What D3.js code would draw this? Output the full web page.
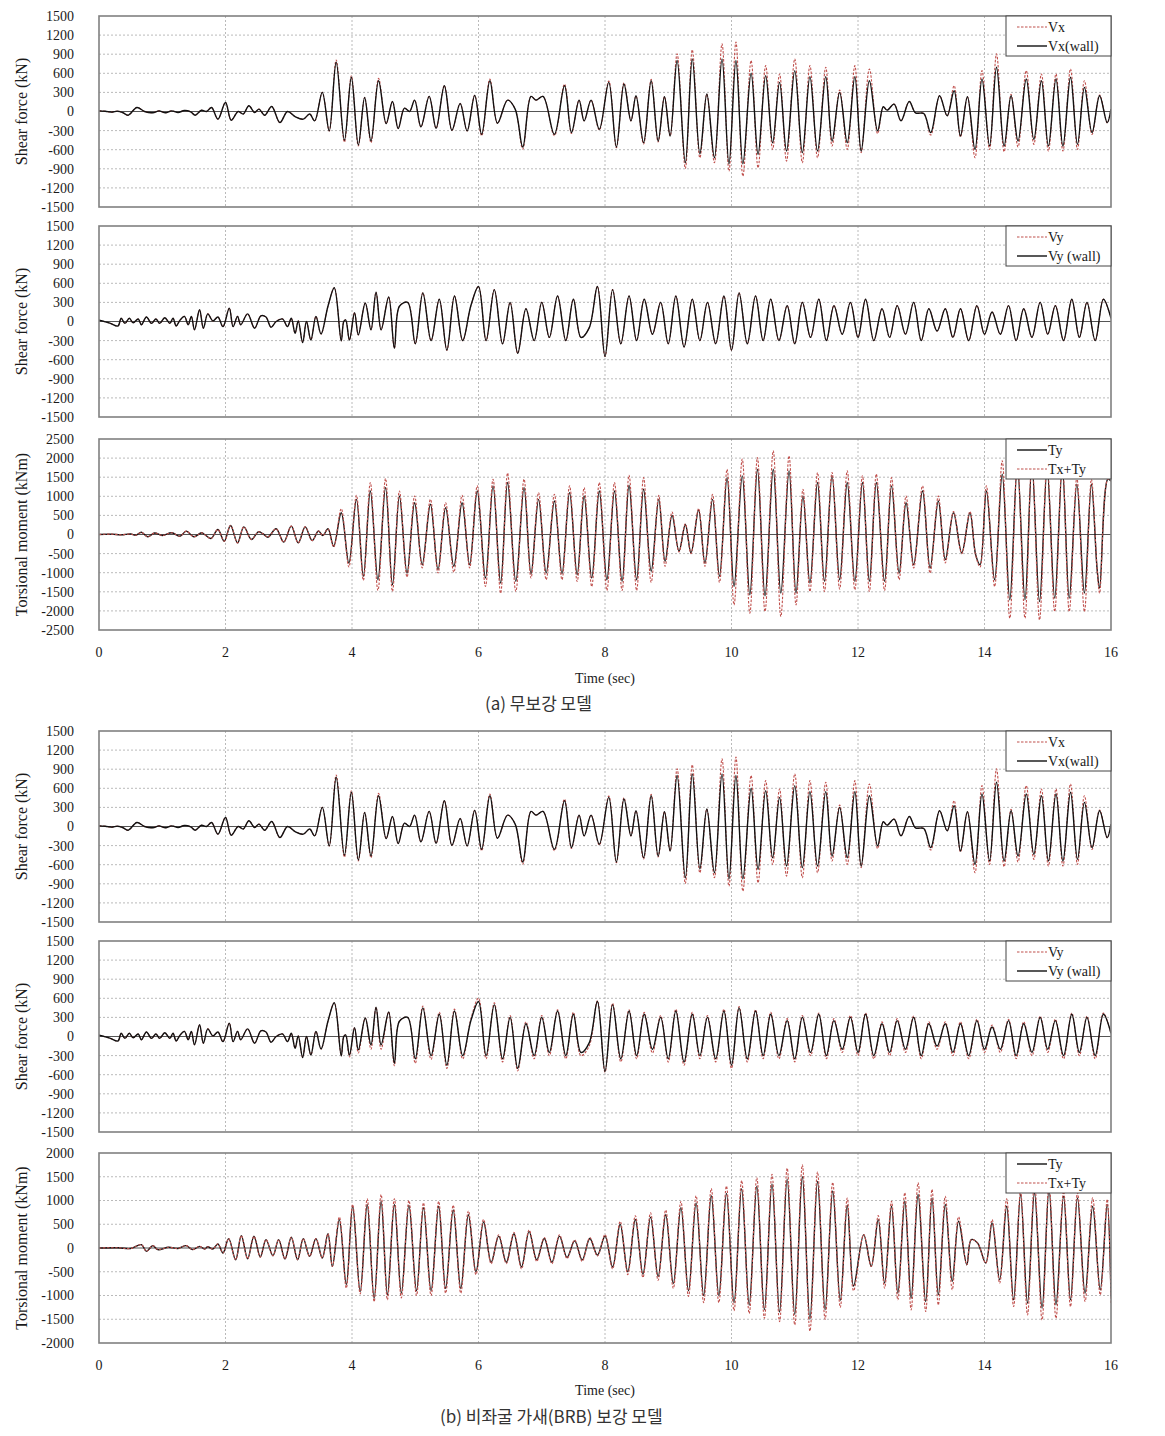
<!DOCTYPE html>
<html><head><meta charset="utf-8">
<script src="https://cdn.jsdelivr.net/npm/d3@7"></script>
<style>body{margin:0;background:#fff;}svg{display:block;}</style>
</head><body>
<script>
// ---------------- DATA ----------------
const xTicks = [0,2,4,6,8,10,12,14,16];
const shearTicks = [1500,1200,900,600,300,0,-300,-600,-900,-1200,-1500];
const torsionTicksA = [2500,2000,1500,1000,500,0,-500,-1000,-1500,-2000,-2500];
const torsionTicksB = [2000,1500,1000,500,0,-500,-1000,-1500,-2000];

// (a) Vx
const aVxTime = [0,0.1,0.2,0.3,0.38,0.46,0.6,0.72,0.85,0.95,1.05,1.15,1.25,1.35,1.45,1.52,1.62,1.7,1.78,1.88,2.0,2.09,2.2,2.28,2.37,2.46,2.53,2.62,2.73,2.86,2.98,3.1,3.23,3.33,3.41,3.53,3.64,3.75,3.88,3.99,4.1,4.2,4.3,4.42,4.54,4.64,4.73,4.83,4.91,4.99,5.09,5.22,5.33,5.46,5.58,5.71,5.82,5.94,6.05,6.18,6.3,6.46,6.58,6.7,6.83,6.91,7.02,7.2,7.36,7.47,7.59,7.67,7.78,7.91,8.06,8.18,8.3,8.41,8.49,8.61,8.73,8.84,8.94,9.03,9.14,9.27,9.38,9.5,9.61,9.73,9.85,9.96,10.07,10.18,10.31,10.42,10.54,10.65,10.76,10.87,11.0,11.12,11.24,11.36,11.49,11.59,11.71,11.83,11.95,12.05,12.18,12.31,12.4,12.46,12.57,12.68,12.81,12.91,13.04,13.15,13.29,13.41,13.52,13.62,13.73,13.85,13.96,14.08,14.19,14.31,14.42,14.53,14.66,14.78,14.9,15.01,15.13,15.24,15.36,15.47,15.58,15.7,15.82,15.94,16.0];
const aVxWall = [10,5,-10,5,-20,-58,63,0,-20,10,-20,10,-15,15,-5,-58,20,0,63,-120,142,-137,0,-40,90,-15,37,-58,79,-174,0,-80,-120,-40,-147,300,-305,773,-452,537,-526,221,-463,484,-190,158,-268,53,0,179,-242,237,-263,405,-295,126,-305,253,-358,484,-184,179,37,-558,237,179,237,-358,405,-331,179,-147,179,-279,458,-558,432,-147,247,-490,484,-463,232,-384,800,-805,826,-663,274,-726,826,-821,800,-821,600,-673,563,-490,458,-621,642,-647,547,-621,547,-463,300,-490,547,-621,484,-305,74,21,116,-147,158,-21,-32,-331,247,-68,326,-384,232,-595,510,-542,695,-542,247,-463,510,-437,484,-542,510,-542,537,-516,379,-331,247,-174,37];
const aVx = [10,5,-10,5,-20,-58,63,0,-20,10,-20,10,-15,15,-5,-58,20,0,63,-120,142,-137,0,-40,90,-15,37,-58,79,-174,0,-80,-120,-40,-147,300,-305,810,-480,560,-540,221,-490,520,-190,158,-268,53,0,179,-242,237,-263,405,-295,126,-305,253,-380,510,-184,179,37,-590,237,179,237,-380,430,-345,179,-147,179,-290,480,-570,450,-147,247,-510,505,-480,232,-384,905,-895,968,-726,274,-805,1063,-937,1089,-1015,800,-884,720,-595,589,-779,826,-805,720,-726,695,-542,337,-595,720,-647,668,-347,74,21,116,-147,158,-21,-32,-370,247,-68,405,-400,232,-726,642,-595,905,-631,270,-558,642,-516,589,-621,589,-621,668,-595,484,-360,260,-180,37];

// (a) Vy
const aVyTime = [0,0.17,0.3,0.35,0.41,0.48,0.54,0.62,0.67,0.75,0.83,0.9,0.96,1.04,1.12,1.17,1.22,1.28,1.35,1.41,1.46,1.51,1.59,1.65,1.72,1.8,1.88,1.96,2.06,2.12,2.19,2.24,2.35,2.46,2.56,2.64,2.72,2.8,2.9,2.98,3.04,3.1,3.15,3.22,3.28,3.35,3.43,3.51,3.62,3.72,3.83,3.87,3.9,3.96,4.04,4.1,4.21,4.3,4.38,4.46,4.58,4.67,4.75,4.88,5.0,5.12,5.25,5.38,5.5,5.62,5.75,5.88,6.0,6.12,6.25,6.38,6.5,6.62,6.75,6.88,7.0,7.12,7.25,7.38,7.5,7.62,7.75,7.88,8.0,8.12,8.25,8.38,8.5,8.62,8.75,8.88,9.0,9.12,9.25,9.38,9.5,9.62,9.75,9.88,10.0,10.12,10.25,10.38,10.5,10.62,10.75,10.88,11.0,11.12,11.25,11.38,11.5,11.62,11.75,11.88,12.0,12.12,12.25,12.38,12.5,12.62,12.75,12.88,13.0,13.12,13.25,13.38,13.5,13.62,13.75,13.88,14.0,14.12,14.25,14.38,14.5,14.62,14.75,14.88,15.0,15.12,15.25,15.38,15.5,15.62,15.75,15.88,16.0];
const aVyWall = [20,-25,-70,50,-30,50,-20,40,-50,70,-30,40,-30,60,-30,50,-70,20,80,-50,80,-130,185,-105,120,10,70,-80,210,-80,80,-50,120,-105,90,70,-90,0,40,-80,50,-185,10,-330,0,-290,80,-195,240,530,-305,0,25,-290,140,-210,290,-130,460,-130,385,-420,240,
  300,-350,450,-300,350,-450,400,-300,250,550,-300,500,-350,300,-500,200,-300,300,-250,400,-300,350,-250,-100,550,-550,500,-350,400,-300,350,-200,300,-350,400,-400,350,-300,300,-350,400,-450,450,-350,400,-300,350,-300,250,-350,300,-250,350,-300,250,-200,300,-250,350,-300,200,-250,250,-200,300,-300,200,-150,200,-250,200,-300,250,-200,150,-200,250,-300,200,-250,300,-200,250,-300,350,-250,300,-300,350,50];
const aVy = aVyWall.slice();

// (a) Torsion
const aTTime = [0,0.2,0.35,0.5,0.58,0.67,0.77,0.88,1.0,1.15,1.28,1.38,1.5,1.62,1.67,1.77,1.88,1.98,2.08,2.19,2.29,2.41,2.52,2.59,2.67,2.8,2.92,3.04,3.15,3.26,3.37,3.47,3.54,3.62,3.71,3.83,3.95,4.07,4.18,4.29,4.41,4.53,4.64,4.75,4.87,4.99,5.11,5.24,5.36,5.48,5.61,5.74,5.86,5.98,6.11,6.23,6.35,6.46,6.59,6.72,6.83,6.95,7.07,7.2,7.32,7.44,7.56,7.67,7.79,7.91,8.03,8.15,8.27,8.38,8.5,8.61,8.73,8.85,8.95,9.06,9.17,9.27,9.36,9.48,9.58,9.7,9.81,9.93,10.04,10.17,10.29,10.41,10.53,10.66,10.78,10.91,11.02,11.13,11.24,11.36,11.47,11.59,11.71,11.83,11.95,12.07,12.18,12.29,12.42,12.53,12.65,12.76,12.88,13.02,13.14,13.27,13.38,13.51,13.64,13.77,13.86,13.93,14.03,14.16,14.28,14.4,14.52,14.64,14.75,14.87,14.99,15.11,15.23,15.34,15.46,15.58,15.69,15.78,15.82,15.95,16.0];
const aTy = [0,10,-10,15,-20,60,-60,40,-25,45,-45,88,-60,45,0,-105,130,-175,237,-220,200,-130,70,20,-70,150,-200,220,-220,200,-160,90,-26,150,-307,570,-745,920,-1096,1140,-1184,1228,-1315,1009,-1009,833,-790,790,-920,700,-833,833,-790,1140,-1140,1272,-1272,1360,-1228,1228,-1026,920,-1009,877,-1026,1096,-1052,1009,-1140,1140,-1184,1140,-1228,1290,-1184,1184,-965,920,-700,500,-438,263,-482,640,-745,920,-1096,1490,-1360,1535,-1579,1710,-1605,1710,-1535,1666,-1535,1009,-1272,1360,-1228,1535,-1184,1360,-1228,1360,-1228,1360,-1228,1272,-1009,833,-790,1140,-877,877,-658,570,-482,570,-526,-790,1140,-1184,1579,-1710,1800,-1710,1800,-1754,1700,-1666,1750,-1666,1316,-1535,1316,-900,-1403,1447,1400];
const aTxTy = [0,10,-10,15,-20,55,-60,40,-25,45,-45,88,-60,45,0,-105,130,-175,237,-220,200,-130,70,20,-70,150,-200,220,-220,200,-160,90,-26,150,-330,675,-850,1026,-1200,1360,-1465,1465,-1490,1140,-1114,1009,-877,920,-1009,833,-990,1026,-877,1272,-1360,1447,-1535,1605,-1490,1447,-1140,1096,-1184,1052,-1184,1272,-1228,1228,-1360,1360,-1465,1360,-1465,1550,-1465,1490,-1254,1026,-833,588,-460,280,-500,680,-833,1052,-1254,1710,-1842,1973,-2060,2017,-2017,2192,-2148,2060,-1842,1184,-1490,1622,-1490,1622,-1430,1666,-1447,1535,-1490,1579,-1465,1490,-1184,1009,-877,1272,-1009,1009,-745,600,-500,600,-540,-850,1272,-1360,1930,-2192,1900,-2192,1950,-2236,1900,-2017,1900,-2017,1490,-2017,1447,-900,-1535,1447,1400];

// (b) Vx
const bVxTime = aVxTime.slice();
const bVxWall = aVxWall.slice();
const bVx = aVx.slice();

// (b) Vy
const bVyTime = aVyTime.slice();
const bVyWall = aVyWall.slice();
const bVy = [20,-25,-70,50,-30,50,-20,40,-50,70,-30,40,-30,60,-30,50,-70,20,80,-50,80,-130,185,-105,120,10,70,-80,210,-80,80,-50,120,-105,90,70,-90,0,40,-80,50,-185,10,-330,0,-290,80,-195,240,530,-305,0,25,-320,140,-260,290,-200,460,-200,385,-460,240,
  300,-420,480,-360,380,-500,430,-350,280,600,-350,530,-400,330,-540,230,-350,330,-300,420,-350,380,-300,-150,560,-560,520,-400,420,-350,380,-260,330,-400,430,-450,380,-350,330,-400,430,-500,470,-400,420,-350,380,-350,280,-400,330,-300,370,-350,280,-250,330,-300,370,-350,230,-300,280,-250,320,-350,230,-200,230,-300,230,-350,270,-250,180,-250,270,-350,230,-300,320,-250,270,-350,370,-300,320,-350,370,50];

// (b) Torsion
const bTTime = [0,0.3,0.5,0.67,0.75,0.85,0.93,1.1,1.25,1.38,1.48,1.59,1.67,1.72,1.8,1.88,1.96,2.05,2.16,2.25,2.35,2.45,2.55,2.64,2.75,2.84,2.94,3.04,3.14,3.23,3.33,3.43,3.53,3.62,3.69,3.8,3.91,4.01,4.13,4.24,4.35,4.46,4.56,4.67,4.78,4.9,5.02,5.13,5.25,5.37,5.48,5.6,5.72,5.84,5.96,6.08,6.2,6.32,6.44,6.56,6.68,6.8,6.92,7.04,7.16,7.28,7.4,7.52,7.64,7.76,7.88,8.0,8.12,8.24,8.36,8.48,8.6,8.72,8.84,8.96,9.08,9.2,9.32,9.44,9.56,9.68,9.8,9.92,10.04,10.16,10.28,10.4,10.52,10.64,10.76,10.88,11.0,11.12,11.24,11.36,11.48,11.6,11.72,11.83,11.93,12.09,12.21,12.32,12.42,12.53,12.63,12.74,12.84,12.95,13.07,13.17,13.27,13.38,13.49,13.59,13.72,13.79,13.89,14.02,14.12,14.24,14.35,14.46,14.57,14.68,14.79,14.91,15.02,15.13,15.25,15.36,15.47,15.59,15.71,15.83,15.94,16.0];
const bTy = [0,5,-10,70,-70,50,-35,15,-10,50,-35,35,-20,25,-20,85,-105,197,-246,260,-225,246,-190,176,-162,176,-232,225,-246,197,-176,197,-211,303,-387,598,-774,880,-915,915,-1056,985,-985,915,-950,900,-900,850,-900,880,-850,800,-850,700,-500,550,-300,250,-300,300,-400,350,-250,200,-300,250,-200,150,-250,200,-150,250,-400,500,-500,600,-550,650,-600,700,-750,850,-900,950,-1000,1100,-1000,1150,-1150,1250,-1200,1300,-1300,1350,-1350,1450,-1400,1500,-1500,1400,-1300,1200,-1100,900,-800,282,-387,598,-739,880,-950,985,-1056,1126,-1126,1056,-985,915,-704,563,-352,176,105,-317,528,-669,880,-1091,1126,-1162,1162,-1267,1232,-1197,1091,-1091,1056,-950,880,-880,915,-1021,176];
const bTxTy = [0,5,-10,70,-70,50,-35,15,-10,50,-35,35,-20,25,-20,85,-105,197,-246,260,-225,246,-190,176,-162,176,-232,225,-246,197,-176,197,-211,303,-387,655,-845,915,-965,1035,-1126,1126,-1091,1035,-1050,1000,-1000,950,-1000,980,-950,900,-950,780,-560,600,-330,280,-330,330,-440,380,-280,220,-330,280,-220,170,-280,220,-170,280,-440,560,-560,680,-620,740,-680,800,-850,980,-1020,1100,-1150,1250,-1150,1300,-1320,1420,-1380,1480,-1480,1550,-1550,1680,-1620,1750,-1750,1600,-1500,1380,-1250,1050,-900,282,-387,683,-845,985,-1091,1162,-1302,1373,-1338,1232,-1197,1091,-880,655,-352,176,105,-317,598,-739,1035,-1232,1197,-1408,1373,-1514,1373,-1479,1197,-1232,1162,-1126,1056,-985,1021,-1162,176];

// ---------------- LAYOUT ----------------
const W = 1165, H = 1436;
const X0 = 99, X1 = 1111;
const RED = "#c0504d";
const SERIF = "Liberation Serif, Times New Roman, serif";
const svg = d3.select("body").append("svg").attr("width", W).attr("height", H);
const x = d3.scaleLinear().domain([0,16]).range([X0, X1]);

const panels = [
  {top:16, bottom:207, ticks:shearTicks, label:"Shear force (kN)",
   series:[{t:aVxTime, v:aVx, red:true},{t:aVxTime, v:aVxWall}],
   legend:[["Vx",true],["Vx(wall)",false]]},
  {top:226, bottom:417, ticks:shearTicks, label:"Shear force (kN)",
   series:[{t:aVyTime, v:aVy, red:true},{t:aVyTime, v:aVyWall}],
   legend:[["Vy",true],["Vy (wall)",false]]},
  {top:439, bottom:630, ticks:torsionTicksA, label:"Torsional moment (kNm)", xaxis:true, xlabY:657, timeY:683,
   series:[{t:aTTime, v:aTy},{t:aTTime, v:aTxTy, red:true}],
   legend:[["Ty",false],["Tx+Ty",true]]},
  {top:731, bottom:922, ticks:shearTicks, label:"Shear force (kN)",
   series:[{t:bVxTime, v:bVx, red:true},{t:bVxTime, v:bVxWall}],
   legend:[["Vx",true],["Vx(wall)",false]]},
  {top:941, bottom:1132, ticks:shearTicks, label:"Shear force (kN)",
   series:[{t:bVyTime, v:bVy, red:true},{t:bVyTime, v:bVyWall}],
   legend:[["Vy",true],["Vy (wall)",false]]},
  {top:1153, bottom:1343, ticks:torsionTicksB, label:"Torsional moment (kNm)", xaxis:true, xlabY:1370, timeY:1395,
   series:[{t:bTTime, v:bTy},{t:bTTime, v:bTxTy, red:true}],
   legend:[["Ty",false],["Tx+Ty",true]]}
];

panels.forEach((p, pi) => {
  const y = d3.scaleLinear().domain([d3.min(p.ticks), d3.max(p.ticks)]).range([p.bottom, p.top]);
  const g = svg.append("g");
  const clipId = "clip" + pi;
  svg.append("clipPath").attr("id", clipId).append("rect")
    .attr("x", X0).attr("y", p.top).attr("width", X1 - X0).attr("height", p.bottom - p.top);

  g.selectAll(".hg").data(p.ticks.filter(v => v !== 0 && v !== d3.min(p.ticks) && v !== d3.max(p.ticks)))
    .enter().append("line")
    .attr("x1", X0).attr("x2", X1).attr("y1", d => y(d)).attr("y2", d => y(d))
    .attr("stroke", "#a8a8a8").attr("stroke-width", 0.8).attr("stroke-dasharray", "2,2");
  g.selectAll(".vg").data(xTicks.filter(v => v > 0 && v < 16)).enter().append("line")
    .attr("x1", d => x(d)).attr("x2", d => x(d)).attr("y1", p.top).attr("y2", p.bottom)
    .attr("stroke", "#a8a8a8").attr("stroke-width", 0.8).attr("stroke-dasharray", "2,2");
  g.append("line").attr("x1", X0).attr("x2", X1).attr("y1", y(0)).attr("y2", y(0))
    .attr("stroke", "#555").attr("stroke-width", 1.2);

  const yAxis = d3.axisLeft(y).tickValues(p.ticks).tickSize(0).tickPadding(0).tickFormat(d => String(d));
  const ya = g.append("g").attr("transform", `translate(${X0 - 25},0)`).call(yAxis);
  ya.select(".domain").remove();
  ya.selectAll("text").attr("font-family", SERIF).attr("font-size", 14).attr("fill", "#1a1a1a");

  g.append("text").attr("transform", `translate(27,${(p.top + p.bottom) / 2}) rotate(-90)`)
    .attr("text-anchor", "middle").attr("font-family", SERIF)
    .attr("font-size", 16).attr("fill", "#1a1a1a").text(p.label);

  const line = d3.line().curve(d3.curveCatmullRom.alpha(0.5));
  p.series.forEach(s => {
    const pts = s.t.map((t, i) => [x(t), y(s.v[i])]);
    g.append("path").attr("d", line(pts)).attr("clip-path", `url(#${clipId})`)
      .attr("fill", "none")
      .attr("stroke", s.red ? RED : "#111")
      .attr("stroke-width", s.red ? 1.1 : 1.4)
      .attr("stroke-dasharray", s.red ? "2.5,1.5" : null)
      .attr("stroke-linejoin", "round");
  });

  g.append("rect").attr("x", X0).attr("y", p.top).attr("width", X1 - X0).attr("height", p.bottom - p.top)
    .attr("fill", "none").attr("stroke", "#808080").attr("stroke-width", 1.6);

  const lx = 1006, ly = p.top, lw = X1 - lx, lh = 40;
  g.append("rect").attr("x", lx).attr("y", ly).attr("width", lw).attr("height", lh)
    .attr("fill", "#fff").attr("stroke", "#444").attr("stroke-width", 1);
  p.legend.forEach((e, i) => {
    const yy = ly + 11 + i * 19;
    g.append("line").attr("x1", lx + 11).attr("x2", lx + 41).attr("y1", yy).attr("y2", yy)
      .attr("stroke", e[1] ? RED : "#111").attr("stroke-width", e[1] ? 1.1 : 1.4)
      .attr("stroke-dasharray", e[1] ? "2.5,1.5" : null);
    g.append("text").attr("x", lx + 42).attr("y", yy + 4.5)
      .attr("font-family", SERIF).attr("font-size", 14).attr("fill", "#1a1a1a").text(e[0]);
  });

  if (p.xaxis) {
    g.selectAll(".xl").data(xTicks).enter().append("text")
      .attr("x", d => x(d)).attr("y", p.xlabY).attr("text-anchor", "middle")
      .attr("font-family", SERIF).attr("font-size", 14).attr("fill", "#1a1a1a")
      .text(d => d);
    g.append("text").attr("x", (X0 + X1) / 2).attr("y", p.timeY).attr("text-anchor", "middle")
      .attr("font-family", SERIF).attr("font-size", 14).attr("fill", "#1a1a1a")
      .text("Time (sec)");
  }
});

svg.append("text").attr("x", 485).attr("y", 710)
  .attr("font-family", "Noto Sans CJK KR, sans-serif").attr("font-size", 17).attr("fill", "#333")
  .text("(a) 무보강 모델");
svg.append("text").attr("x", 440).attr("y", 1423)
  .attr("font-family", "Noto Sans CJK KR, sans-serif").attr("font-size", 17).attr("fill", "#333")
  .text("(b) 비좌굴 가새(BRB) 보강 모델");
</script>
</body></html>
